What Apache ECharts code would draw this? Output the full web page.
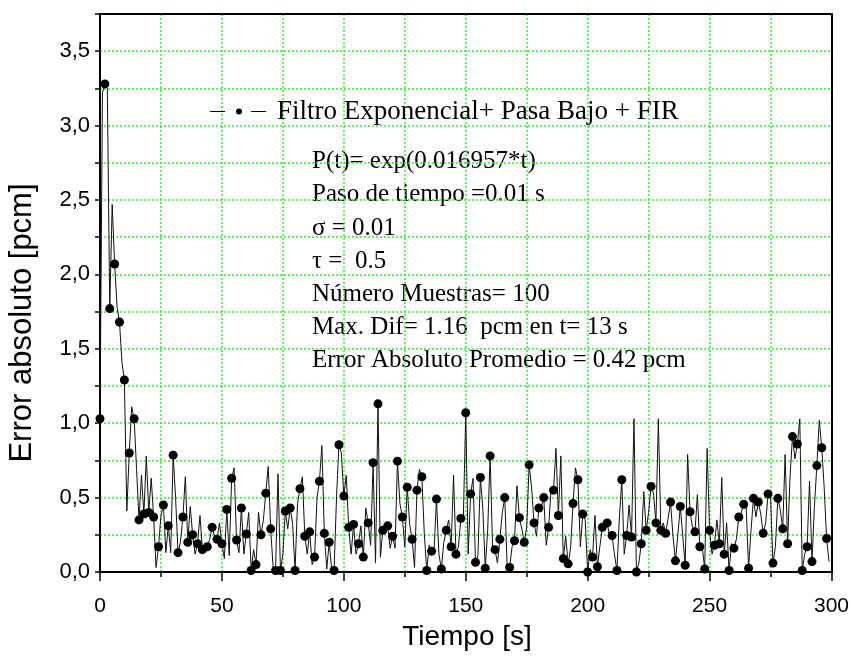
<!DOCTYPE html>
<html>
<head>
<meta charset="utf-8">
<script src="https://cdn.jsdelivr.net/npm/echarts@6/dist/echarts.min.js"></script>
<style>html,body{margin:0;padding:0;background:#fff}#c{width:852px;height:661px}</style>
</head>
<body>
<div id="c"></div>
<script>
// Values at even seconds (shown with markers): t = 0, 2, 4, ... 298
var markerValues = [
1.03,3.28,1.77,2.07,1.68,1.29,0.80,1.03,0.35,0.39,
0.40,0.37,0.17,0.45,0.31,0.785,0.13,0.37,0.20,0.25,
0.19,0.15,0.17,0.30,0.22,0.19,0.42,0.63,0.215,0.43,
0.255,0.01,0.05,0.25,0.53,0.29,0.01,0.01,0.41,0.43,
0.01,0.56,0.24,0.27,0.10,0.61,0.26,0.20,0.01,0.855,
0.51,0.30,0.32,0.19,0.10,0.33,0.735,1.13,0.28,0.31,
0.24,0.745,0.37,0.57,0.22,0.55,0.64,0.01,0.14,0.49,
0.02,0.28,0.17,0.12,0.36,1.07,0.525,0.065,0.635,0.025,
0.78,0.15,0.22,0.50,0.03,0.21,0.365,0.20,0.72,0.33,
0.43,0.50,0.30,0.55,0.38,0.09,0.055,0.46,0.62,0.39,
0.0,0.10,0.035,0.30,0.33,0.245,0.01,0.62,0.245,0.235,
0.0,0.19,0.28,0.575,0.33,0.28,0.26,0.47,0.075,0.44,
0.045,0.405,0.27,0.17,0.02,0.28,0.18,0.19,0.12,0.01,
0.16,0.37,0.455,0.025,0.495,0.47,0.26,0.525,0.06,0.495,
0.29,0.19,0.91,0.86,0.01,0.17,0.07,0.715,0.835,0.225
];
// Values at odd seconds (line only): t = 1, 3, 5, ... 299
var midValues = [
3.22,3.25,2.47,1.78,1.41,0.41,1.11,0.69,0.65,0.78,
0.63,0.03,0.38,0.13,0.13,0.50,0.20,0.64,0.44,0.12,
0.38,0.19,0.22,0.24,0.33,0.09,0.11,0.70,0.13,0.12,
0.40,0.15,0.40,0.35,0.71,0.03,0.66,0.12,0.29,0.32,
0.46,0.64,0.12,0.05,0.50,0.85,0.02,0.02,0.50,0.80,
0.65,0.12,0.12,0.31,0.43,0.18,0.06,0.10,0.30,0.16,
0.16,0.46,0.17,0.32,0.03,0.69,0.26,0.18,0.14,0.12,
0.20,0.35,0.65,0.17,0.35,0.12,0.63,0.11,0.43,0.28,
0.17,0.06,0.40,0.03,0.17,0.58,0.29,0.30,0.57,0.24,
0.44,0.18,0.56,0.83,0.78,0.24,0.16,0.70,0.17,0.35,
0.15,0.38,0.17,0.30,0.24,0.12,0.36,0.12,0.45,1.03,
0.06,0.54,0.40,0.53,1.03,0.33,0.36,0.24,0.25,0.24,
0.79,0.30,0.52,0.17,0.83,0.12,0.35,0.635,0.33,0.19,
0.22,0.40,0.44,0.28,0.37,0.39,0.33,0.51,0.17,0.42,
0.79,0.64,0.76,1.03,0.12,0.61,0.44,1.02,0.57,0.07
];
var seriesName = 'Filtro Exponencial+ Pasa Bajo + FIR';
var annotationLines = [
  'P(t)= exp(0.016957*t)',
  'Paso de tiempo =0.01 s',
  '\u03c3 = 0.01',
  '\u03c4 =  0.5',
  'N\u00famero Muestras= 100',
  'Max. Dif= 1.16  pcm en t= 13 s',
  'Error Absoluto Promedio = 0.42 pcm'
];
var xTitle = 'Tiempo [s]';
var yTitle = 'Error absoluto [pcm]';

var data = [];
for (var i = 0; i < markerValues.length; i++) {
  data.push({ value: [2 * i, markerValues[i]] });
  if (i < midValues.length) data.push({ value: [2 * i + 1, midValues[i]], symbol: 'none' });
}

function gridLine() { return { show: true, lineStyle: { color: '#33ee33', width: 1.5, type: [2, 2] } }; }
function frameAxis(extra) {
  return Object.assign({
    type: 'value',
    axisLine: { show: true, onZero: false, lineStyle: { color: '#000', width: 2 } },
    axisTick: { show: false }, axisLabel: { show: false }, splitLine: { show: false }
  }, extra);
}
var legendIcon = 'path://M0,2.4H15V3.6H0Z M41,2.4H56V3.6H41Z M26,3a3,3 0 1,0 6,0a3,3 0 1,0 -6,0Z';

var chart = echarts.init(document.getElementById('c'), null, { renderer: 'canvas' });
chart.setOption({
  animation: false,
  backgroundColor: '#fff',
  grid: { left: 100, right: 19, top: 14, bottom: 89 },
  legend: {
    data: [{ name: seriesName, icon: legendIcon }], left: 210, top: 98, padding: 0,
    itemWidth: 56, itemHeight: 6, itemGap: 0,
    itemStyle: { color: '#000', borderWidth: 0 },
    textStyle: { fontFamily: 'Liberation Serif', fontSize: 27, color: '#000', padding: [0, 0, 0, 6] }
  },
  xAxis: [{
    type: 'value', min: 0, max: 300, interval: 25,
    axisLine: { show: true, onZero: false, lineStyle: { color: '#000', width: 2 } },
    axisTick: { show: true, inside: false, length: 5, lineStyle: { color: '#000', width: 1.5 } },
    axisLabel: {
      margin: 24, fontFamily: 'Liberation Sans', fontSize: 21, color: '#000',
      formatter: function (v) { return v % 50 === 0 ? String(v) : ''; }
    },
    splitLine: gridLine()
  },
  frameAxis({ min: 0, max: 300, position: 'top' }),
  frameAxis({ min: 0, max: 300, interval: 50, position: 'bottom',
    axisLine: { show: false },
    axisTick: { show: true, inside: false, length: 9, lineStyle: { color: '#000', width: 1.5 } } })],
  yAxis: [{
    type: 'value', min: 0, max: 3.75, interval: 0.25,
    axisLine: { show: true, onZero: false, lineStyle: { color: '#000', width: 2 } },
    axisTick: { show: true, inside: false, length: 5, lineStyle: { color: '#000', width: 1.5 } },
    axisLabel: {
      margin: 10, fontFamily: 'Liberation Sans', fontSize: 22, color: '#000',
      formatter: function (v) {
        if (Math.abs(v * 2 - Math.round(v * 2)) > 1e-6) return '';
        return v.toFixed(1).replace('.', ',');
      }
    },
    splitLine: gridLine()
  }, frameAxis({ min: 0, max: 3.75, position: 'right' })],
  series: [{
    name: seriesName, type: 'line', data: data,
    symbol: 'circle', symbolSize: 9, showSymbol: true, showAllSymbol: true,
    lineStyle: { color: '#111', width: 1 },
    itemStyle: { color: '#000' },
    z: 3
  }],
  graphic: [{
    type: 'text', left: 312, top: 145, silent: true,
    style: {
      text: annotationLines.join('\n'), fill: '#000',
      font: '25px "Liberation Serif"', lineHeight: 33.2
    }
  }, {
    type: 'text', x: 22, y: 323, rotation: Math.PI / 2, silent: true,
    style: { text: yTitle, fill: '#000', font: '31px "Liberation Sans"', align: 'center', verticalAlign: 'middle' }
  }, {
    type: 'text', x: 467, y: 637, silent: true,
    style: { text: xTitle, fill: '#000', font: '28px "Liberation Sans"', align: 'center', verticalAlign: 'middle' }
  }]
});
</script>
</body>
</html>
